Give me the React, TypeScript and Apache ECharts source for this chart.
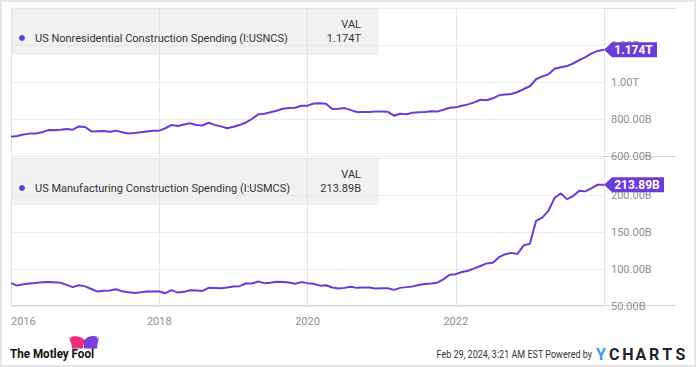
import React, { useEffect, useRef } from "react";
import * as echarts from "echarts";

// ---------- data ----------
const startYear = 2016; // first monthly point sits at the start of 2016
const xMin = 2016;
const xMax = 2024;
const xInterval = 2;

const seriesNames = [
  "US Nonresidential Construction Spending (I:USNCS)",
  "US Manufacturing Construction Spending (I:USMCS)",
];

// billions of USD, monthly
const nonresValues = [
  704, 708, 716, 721, 722, 728, 740, 739, 742, 746, 742, 760,
  757, 733, 734, 735, 731, 737, 728, 722, 724, 728, 733, 736,
  737, 750, 768, 762, 770, 777, 768, 765, 780, 768, 760, 750,
  758, 768, 780, 800, 825, 828, 836, 845, 855, 860, 861, 872,
  872, 884, 885, 882, 854, 856, 859, 848, 838, 838, 838, 840,
  840, 839, 818, 828, 826, 834, 836, 838, 842, 840, 850, 861,
  863, 872, 879, 890, 904, 901, 912, 928, 932, 935, 946, 962,
  977, 1015, 1030, 1042, 1072, 1080, 1086, 1100, 1118, 1135, 1155, 1168,
  1174,
];

const mfgValues = [
  81, 77.5, 79.5, 80.5, 81, 82, 82.3, 82, 81.5, 78.5, 75.5, 78,
  76.5, 73, 69.5, 70.5, 71, 72.7, 69.8, 68.5, 67.7, 68.5, 69.5, 69.5,
  69.5, 67.3, 71.4, 68.1, 69.1, 71.4, 71, 70.4, 74.5, 74.3, 74, 75,
  76.3, 76.8, 80.4, 80.4, 83.1, 80.9, 81.5, 82.7, 82.5, 81.8, 80, 82.3,
  80.9, 80, 77.5, 78, 75, 73.6, 74.5, 75.9, 74.5, 75, 75, 73.6,
  74, 74, 71.8, 74.5, 75.5, 76.5, 78.5, 79.6, 80.5, 81.5, 86, 92.2,
  93, 96, 97.7, 100.8, 104, 107.5, 108.5, 116, 120, 121.8, 120.4, 132,
  134, 165, 169.5, 178.5, 196, 202.2, 194.4, 198.5, 205.7, 204.9, 209.4, 214,
  213.89,
];

const topAxis = { min: 600, max: 1400, interval: 200 };
const bottomAxis = { min: 50, max: 250, interval: 50 };

const PURPLE = "#6b3bd7";
const FONT = "Roboto, 'Noto Sans', sans-serif";

const fmtAxis = (v: number) =>
  v >= 1000 ? (v / 1000).toFixed(2) + "T" : v.toFixed(2) + "B";
const fmtTop = (v: number) => (v >= 1000 ? (v / 1000).toFixed(3) + "T" : v.toFixed(2) + "B");
const fmtBottom = (v: number) => v.toFixed(2) + "B";

const toPairs = (vals: number[]) => vals.map((v, i) => [startYear + i / 12, v]);

echarts.graphic.registerShape(
  "hatPink",
  echarts.graphic.extendPath(
    "M3 14 C3 9 1 5 0 2 C5 -1 12 0 16 5 C15 8 14 11 14 14 Z",
    {} as any
  ) as any
);
echarts.graphic.registerShape(
  "hatPurple",
  echarts.graphic.extendPath(
    "M0 14 C0 10 0 7 0 5 C4 -1 11 -1 15 2 C14 6 13 10 13 14 Z",
    {} as any
  ) as any
);

function tag(vals: number[], text: string, width: number) {
  const last = vals.length - 1;
  return {
    silent: true,
    symbol: `path://M0,7 L8,0 L${width},0 L${width},14 L8,14 Z`,
    symbolSize: [width, 15],
    symbolOffset: ["50%", 0],
    itemStyle: { color: PURPLE },
    label: {
      show: true,
      position: "inside",
      offset: [3, 0],
      color: "#fff",
      fontFamily: FONT,
      fontWeight: "bold",
      fontSize: 12,
      formatter: () => text,
    },
    data: [{ coord: [startYear + last / 12, vals[last]] }],
  };
}

function legendGroup(top: number, name: string, val: string) {
  const font = `11px ${FONT}`;
  return [
    {
      type: "rect",
      silent: true,
      z: 5,
      shape: { x: 11, y: top, width: 368, height: 47 },
      style: { fill: "rgba(226,226,226,0.48)" },
    },
    {
      type: "circle",
      silent: true,
      z: 6,
      shape: { cx: 22, cy: top + 30, r: 3 },
      style: { fill: PURPLE },
    },
    {
      type: "text",
      silent: true,
      z: 6,
      x: 35,
      y: top + 30,
      style: { text: name, fill: "#333", font, verticalAlign: "middle" },
    },
    {
      type: "text",
      silent: true,
      z: 6,
      x: 361,
      y: top + 16,
      style: { text: "VAL", fill: "#333", font, align: "right", verticalAlign: "middle" },
    },
    {
      type: "text",
      silent: true,
      z: 6,
      x: 361,
      y: top + 30,
      style: { text: val, fill: "#333", font, align: "right", verticalAlign: "middle" },
    },
  ];
}

export default function App() {
  const ref = useRef<HTMLDivElement>(null);

  useEffect(() => {
    document.body.style.margin = "0";
    const chart = echarts.init(ref.current!, undefined, { renderer: "svg" });

    const xAxisBase = (gridIndex: number, showLabel: boolean) => ({
      type: "value",
      gridIndex,
      min: xMin,
      max: xMax,
      interval: xInterval,
      axisLine: { show: false },
      axisTick: { show: false },
      splitLine: { show: true, lineStyle: { color: "#e4e4e4", width: 1 } },
      axisLabel: {
        show: showLabel,
        color: "#8f8f8f",
        fontFamily: FONT,
        fontSize: 11,
        margin: 10,
        showMaxLabel: false,
        alignMinLabel: "left",
        formatter: (v: number) => String(Math.round(v)),
      },
    });

    const yAxisBase = (gridIndex: number, ax: { min: number; max: number; interval: number }) => ({
      type: "value",
      gridIndex,
      position: "right",
      min: ax.min,
      max: ax.max,
      interval: ax.interval,
      axisLine: { show: false },
      axisTick: { show: false },
      splitLine: { show: true, lineStyle: { color: "#ececec", width: 1 } },
      axisLabel: {
        color: "#8f8f8f",
        fontFamily: FONT,
        fontSize: 11,
        margin: 7,
        showMaxLabel: false,
        verticalAlign: "middle",
        padding: [0, 0, 8, 0],
        formatter: fmtAxis,
      },
    });

    const topLast = nonresValues[nonresValues.length - 1];
    const botLast = mfgValues[mfgValues.length - 1];

    const ycLetters = ["C", "H", "A", "R", "T", "S"];

    chart.setOption({
      animation: false,
      backgroundColor: "#fff",
      grid: [
        { left: 11, top: 8, width: 593, height: 148 },
        { left: 11, top: 158, width: 593, height: 148 },
      ],
      xAxis: [xAxisBase(0, false), xAxisBase(1, true)],
      yAxis: [yAxisBase(0, topAxis), yAxisBase(1, bottomAxis)],
      series: [
        {
          name: seriesNames[0],
          type: "line",
          xAxisIndex: 0,
          yAxisIndex: 0,
          showSymbol: false,
          z: 3,
          lineStyle: { color: PURPLE, width: 2 },
          data: toPairs(nonresValues),
          markPoint: tag(nonresValues, fmtTop(topLast), 53),
        },
        {
          name: seriesNames[1],
          type: "line",
          xAxisIndex: 1,
          yAxisIndex: 1,
          showSymbol: false,
          z: 3,
          lineStyle: { color: PURPLE, width: 2 },
          data: toPairs(mfgValues),
          markPoint: tag(mfgValues, fmtBottom(botLast), 60),
        },
      ],
      graphic: [
        {
          type: "rect",
          silent: true,
          shape: { x: 1, y: 1, width: 694, height: 365 },
          style: { fill: "none", stroke: "#e6e6e6", lineWidth: 2 },
        },
        {
          type: "line",
          silent: true,
          shape: { x1: 11, y1: 8.5, x2: 676, y2: 8.5 },
          style: { stroke: "#dcdcdc", lineWidth: 1 },
        },
        {
          type: "line",
          silent: true,
          shape: { x1: 11, y1: 156.5, x2: 676, y2: 156.5 },
          style: { stroke: "#d4d4d4", lineWidth: 1 },
        },
        {
          type: "line",
          silent: true,
          shape: { x1: 11, y1: 305.5, x2: 676, y2: 305.5 },
          style: { stroke: "#d4d4d4", lineWidth: 1 },
        },
        ...legendGroup(8, seriesNames[0], fmtTop(topLast)),
        ...legendGroup(158, seriesNames[1], fmtBottom(botLast)),
        // footer: Motley Fool logo
        {
          type: "text",
          silent: true,
          x: 10,
          y: 354,
          scaleX: 0.97,
          style: {
            text: "The Motley Fool",
            fill: "#111",
            font: `bold 12px ${FONT}`,
            verticalAlign: "middle",
          },
        },
        {
          type: "hatPink",
          silent: true,
          x: 69,
          y: 336,
          scaleX: 1,
          scaleY: 0.9,
          style: { fill: "#ee2a7b" },
        },
        {
          type: "hatPurple",
          silent: true,
          x: 84,
          y: 336,
          scaleX: 1,
          scaleY: 0.9,
          style: { fill: "#7b3fd9" },
        },
        {
          type: "circle",
          silent: true,
          shape: { cx: 70, cy: 338, r: 1.3 },
          style: { fill: "#bbb" },
        },
        {
          type: "circle",
          silent: true,
          shape: { cx: 98, cy: 338, r: 1.3 },
          style: { fill: "#bbb" },
        },
        // footer: timestamp + YCharts
        {
          type: "text",
          silent: true,
          x: 592,
          y: 354,
          scaleX: 0.82,
          style: {
            text: "Feb 29, 2024, 3:21 AM EST Powered by",
            fill: "#333",
            font: `11px ${FONT}`,
            align: "right",
            verticalAlign: "middle",
          },
        },
        {
          type: "text",
          silent: true,
          x: 596,
          y: 354,
          style: {
            text: "Y",
            fill: "#3d9be9",
            font: `bold 16px ${FONT}`,
            verticalAlign: "middle",
          },
        },
        ...ycLetters.map((ch, i) => ({
          type: "text",
          silent: true,
          x: 609 + i * 13.3,
          y: 354,
          style: {
            text: ch,
            fill: "#1e2230",
            font: `bold 16px ${FONT}`,
            verticalAlign: "middle",
          },
        })),
      ],
    } as any);

    return () => chart.dispose();
  }, []);

  return (
    <div
      ref={ref}
      style={{ position: "fixed", left: 0, top: 0, width: 696, height: 367 }}
    />
  );
}
